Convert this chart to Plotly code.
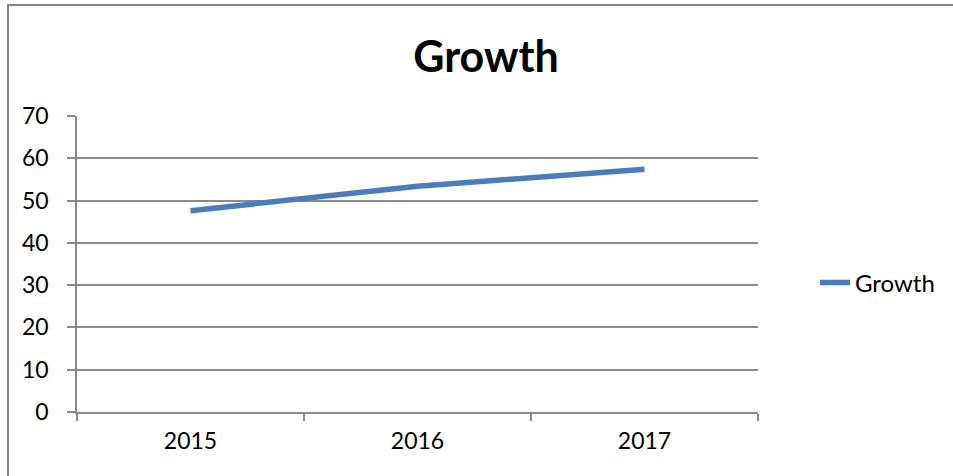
import plotly.graph_objects as go

years = ["2015", "2016", "2017"]
growth = [47.6, 53.4, 57.4]
y_ticks = [0, 10, 20, 30, 40, 50, 60, 70]

W, H = 953, 476
L, R, T, B = 77, 195, 116, 64
pw, ph = W - L - R, H - T - B

def px_x(x):
    return (x - L) / pw

def px_y(y):
    return (H - B - y) / ph

fig = go.Figure()
fig.add_trace(go.Scatter(
    x=years, y=growth, mode="lines", name="Growth",
    line=dict(color="#4A7EBB", width=5.5),
))

grid = "#898989"
fnt = "Lato, 'Open Sans', sans-serif"
fig.update_layout(
    width=W, height=H,
    margin=dict(l=L, r=R, t=T, b=B),
    paper_bgcolor="white", plot_bgcolor="white",
    font=dict(family=fnt, color="#000000", size=23),
    title=dict(text="<b>Growth</b>", x=(486 / W), xanchor="center",
               y=1 - 57 / H, yanchor="middle",
               font=dict(size=43, family=fnt, color="#000")),
    showlegend=True,
    legend=dict(x=px_x(815), xanchor="left", y=px_y(283), yanchor="middle",
                font=dict(size=24), bgcolor="rgba(0,0,0,0)"),
    xaxis=dict(type="category", range=[-0.5, 2.5], tickson="boundaries",
               ticks="outside", ticklen=7, tickcolor=grid, tickwidth=1.5,
               showline=True, linecolor=grid, linewidth=1.5,
               showgrid=False, zeroline=False,
               tickfont=dict(size=23), ticklabelstandoff=8),
    yaxis=dict(range=[0, 70], tickvals=y_ticks, ticks="outside", ticklen=8,
               tickcolor=grid, tickwidth=1.5,
               showline=True, linecolor=grid, linewidth=1.5,
               showgrid=True, gridcolor=grid, gridwidth=1.5,
               zeroline=False, tickfont=dict(size=23), ticklabelstandoff=14),
    shapes=[dict(type="rect", xref="paper", yref="paper",
                 x0=px_x(8), x1=px_x(W + 20), y0=px_y(H + 20), y1=px_y(5),
                 line=dict(color="#868686", width=2), layer="below")],
)

fig.write_html("out.html", config={"displayModeBar": False},
               post_script="document.body.style.margin='0';document.body.style.overflow='hidden';")
